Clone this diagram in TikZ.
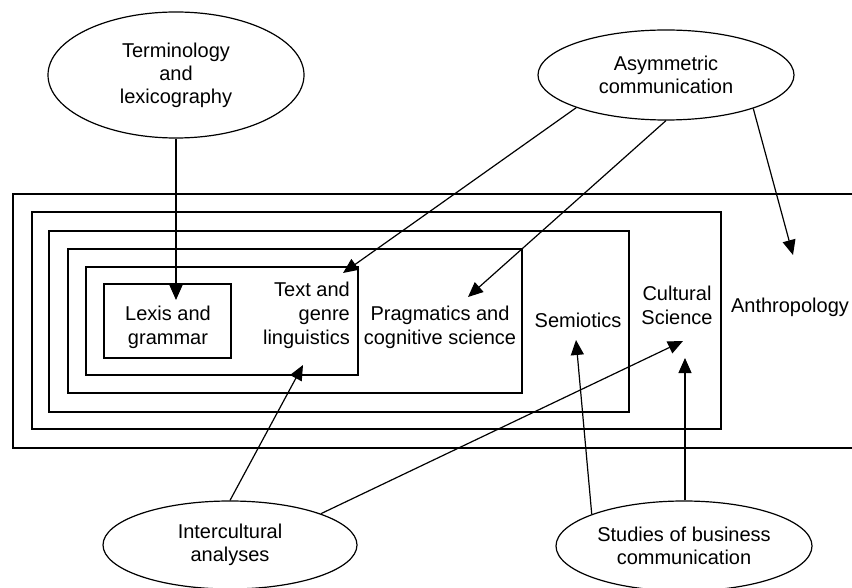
\documentclass[tikz,border=0pt]{standalone}
\usepackage{fontspec}
\setmainfont{Liberation Sans}
\usetikzlibrary{arrows.meta,shapes.geometric}
\begin{document}
\begin{tikzpicture}[x=1pt,y=-1pt,
  lbl/.style={font=\fontsize{20}{24}\selectfont, inner sep=0pt, align=center},
  field/.style={draw, line width=1.5pt},
  core/.style={draw, line width=2.1pt},
  area/.style={ellipse, draw, line width=1.2pt, inner sep=0pt,
    font=\fontsize{20}{23}\selectfont, align=center},
  arr/.style={line width=1.2pt, -{Triangle[length=15pt,width=13pt]}}]
\useasboundingbox (0,0) rectangle (852,588);
\clip (0,0) rectangle (852,588);
\fill[white] (0,0) rectangle (852,588);

% nested fields of study, outermost first
\draw[field] (13,194) rectangle (880,448);
\draw[field] (32,212) rectangle (721,429);
\draw[field] (49,231) rectangle (629,412);
\draw[field] (68,249) rectangle (522,393);
\draw[field] (86,267) rectangle (358,375);
\draw[core]  (104,284) rectangle (231,358);

% field labels
\node[lbl] (lex)  at (168,327) {Lexis and\\grammar};
\node[lbl, align=right, anchor=east] (text) at (350,315) {Text and\\genre\\linguistics};
\node[lbl] (prag) at (440,327) {Pragmatics and\\cognitive science};
\node[lbl] (semi) at (578,320) {Semiotics};
\node[lbl] (cult) at (677,305) {Cultural\\Science};
\node[lbl] (anth) at (790,307) {Anthropology};

% neighbouring disciplines
\node[area, minimum width=256pt, minimum height=126pt] (term)  at (176,75)  {Terminology\\and\\lexicography};
\node[area, minimum width=256pt, minimum height=90pt]  (asym)  at (666,75)  {Asymmetric\\communication};
\node[area, minimum width=254pt, minimum height=88pt]  (inter) at (230,545) {Intercultural\\analyses};
\node[area, minimum width=256pt, minimum height=90pt]  (biz)   at (684,546) {Studies of business\\communication};

% arrow tips
\coordinate (tLex)   at (176,300);
\coordinate (tText1) at (343,273);
\coordinate (tPrag)  at (468,297);
\coordinate (tAnth)  at (793,255);
\coordinate (tText2) at (303,365);
\coordinate (tCult1) at (683,341);
\coordinate (tSemi)  at (576,340);
\coordinate (tCult2) at (685,358);

% influences
\draw[arr] (tLex |- term.south) -- (tLex);
\draw[arr] (asym.200) -- (tText1);
\draw[arr] (asym.south) -- (tPrag);
\draw[arr] (asym.339) -- (tAnth);
\draw[arr] (inter.north) -- (tText2);
\draw[arr] (inter.19) -- (tCult1);
\draw[arr] (biz.161) -- (tSemi);
\draw[arr] (tCult2 |- biz.north) -- (tCult2);
\end{tikzpicture}
\end{document}
